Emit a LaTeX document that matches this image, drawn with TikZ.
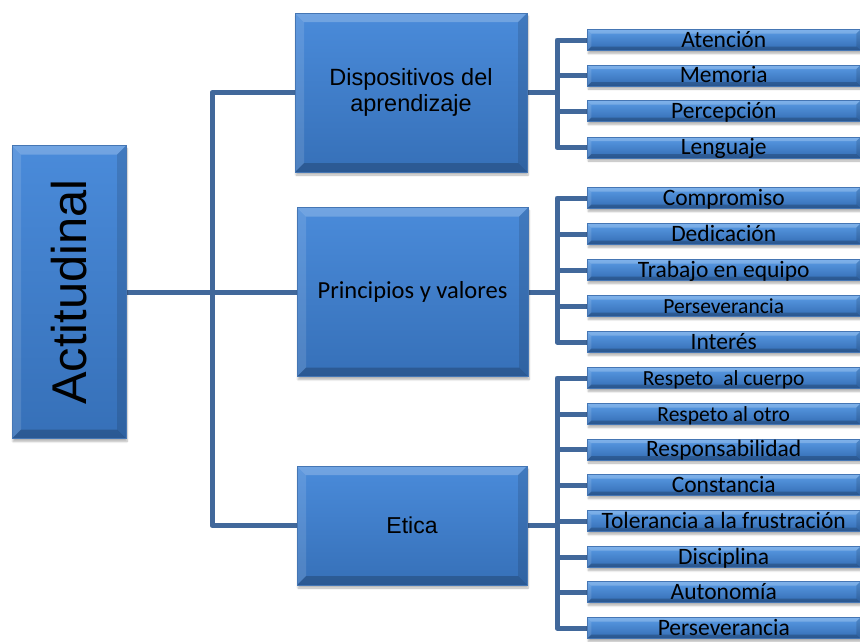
\documentclass[tikz,border=0pt]{standalone}
\usepackage{fontspec}
\usepackage{graphicx}
\setmainfont{Carlito}
\newfontfamily\arialf{Liberation Sans}
\usetikzlibrary{shadows.blur,backgrounds}
\definecolor{linec}{HTML}{41689B}
\definecolor{boxedge}{HTML}{4576B4}
\definecolor{boxtop}{HTML}{4A8BDA}
\definecolor{boxbot}{HTML}{3670B8}
\definecolor{leaftop}{HTML}{5A9CE6}
\definecolor{leafbot}{HTML}{336BB2}
\newcommand{\bevelpp}[1]{%
  \fill[white,opacity=0.22] (path picture bounding box.north west) -- (path picture bounding box.north east)
     -- ([shift={(-#1pt,-#1pt)}]path picture bounding box.north east) -- ([shift={(#1pt,-#1pt)}]path picture bounding box.north west) -- cycle;
  \fill[white,opacity=0.12] (path picture bounding box.north west) -- ([shift={(#1pt,-#1pt)}]path picture bounding box.north west)
     -- ([shift={(#1pt,#1pt)}]path picture bounding box.south west) -- (path picture bounding box.south west) -- cycle;
  \fill[black,opacity=0.20] (path picture bounding box.south west) -- (path picture bounding box.south east)
     -- ([shift={(-#1pt,#1pt)}]path picture bounding box.south east) -- ([shift={(#1pt,#1pt)}]path picture bounding box.south west) -- cycle;
  \fill[black,opacity=0.12] (path picture bounding box.north east) -- (path picture bounding box.south east)
     -- ([shift={(-#1pt,#1pt)}]path picture bounding box.south east) -- ([shift={(-#1pt,-#1pt)}]path picture bounding box.north east) -- cycle;
}
\tikzset{
  conn/.style={draw=linec, line width=5pt, line join=round},
  bigbox/.style={draw=boxedge, line width=0.5pt, top color=boxtop, bottom color=boxbot,
     inner sep=0pt, align=center, text=black,
     blur shadow={shadow xshift=1pt, shadow yshift=-3pt, shadow opacity=30, shadow blur steps=6},
     path picture={\bevelpp{9}}},
  leaf/.style={draw=boxedge, line width=0.5pt, top color=leaftop, bottom color=leafbot,
     inner sep=0pt, text=black, anchor=west, minimum width=273pt, minimum height=21pt,
     text height=14pt, text depth=0pt, font=\fontsize{23.5}{26}\selectfont,
     blur shadow={shadow xshift=1pt, shadow yshift=-3pt, shadow opacity=30, shadow blur steps=5},
     path picture={\bevelpp{4}}},
  small/.style={font=\fontsize{21.5}{24}\selectfont}
}
\begin{document}
\begin{tikzpicture}[x=1pt,y=-1pt]
\useasboundingbox (0,0) rectangle (860,641);
\coordinate (tr) at (212,292);
\coordinate (b1) at (557,92.5);
\coordinate (b2) at (557,292);
\coordinate (b3) at (557,525.5);
% main and mid boxes
\node[bigbox, minimum width=114pt, minimum height=293pt] (act) at (69,292)
  {\rotatebox{90}{\arialf\fontsize{48.8}{50}\selectfont Actitudinal}};
\node[bigbox, minimum width=232pt, minimum height=159pt,
      font=\arialf\fontsize{23.5}{26.5}\selectfont] (disp) at (411,92.5)
  {Dispositivos del\\aprendizaje};
\node[bigbox, minimum width=231pt, minimum height=169pt,
      font=\fontsize{24.5}{27}\selectfont] (prin) at (412.5,292)
  {Principios y valores};
\node[bigbox, minimum width=230pt, minimum height=119pt,
      font=\arialf\fontsize{23}{26}\selectfont] (etica) at (412,525.5)
  {Etica};
% leaves
\node[leaf] (a1) at (587,40) {Atención};
\node[leaf] (a2) at (587,75.5) {Memoria};
\node[leaf] (a3) at (587,111) {Percepción};
\node[leaf] (a4) at (587,147.5) {Lenguaje};
\node[leaf] (p1) at (587,198) {Compromiso};
\node[leaf] (p2) at (587,234) {Dedicación};
\node[leaf] (p3) at (587,270) {Trabajo en equipo};
\node[leaf, small] (p4) at (587,306) {Perseverancia};
\node[leaf] (p5) at (587,342) {Interés};
\node[leaf, small] (e1) at (587,378) {Respeto~ al cuerpo};
\node[leaf, small] (e2) at (587,414) {Respeto al otro};
\node[leaf] (e3) at (587,449.5) {Responsabilidad};
\node[leaf] (e4) at (587,485) {Constancia};
\node[leaf] (e5) at (587,521) {Tolerancia a la frustración};
\node[leaf] (e6) at (587,557) {Disciplina};
\node[leaf] (e7) at (587,592) {Autonomía};
\node[leaf] (e8) at (587,628) {Perseverancia};
% connectors
\begin{scope}[on background layer]
\draw[conn] (act.east) -- (prin.west);
\draw[conn] (disp.west) -| (tr) |- (etica.west);
\draw[conn] (disp.east) -- (b1);
\draw[conn] (prin.east) -- (b2);
\draw[conn] (etica.east) -- (b3);
\draw[conn] (a1.west) -| (b1) |- (a4.west);
\foreach \n in {a2,a3} \draw[conn] (b1 |- \n.west) -- (\n.west);
\draw[conn] (p1.west) -| (b2) |- (p5.west);
\foreach \n in {p2,p3,p4} \draw[conn] (b2 |- \n.west) -- (\n.west);
\draw[conn] (e1.west) -| (b3) |- (e8.west);
\foreach \n in {e2,e3,e4,e5,e6,e7} \draw[conn] (b3 |- \n.west) -- (\n.west);
\end{scope}
\end{tikzpicture}
\end{document}
